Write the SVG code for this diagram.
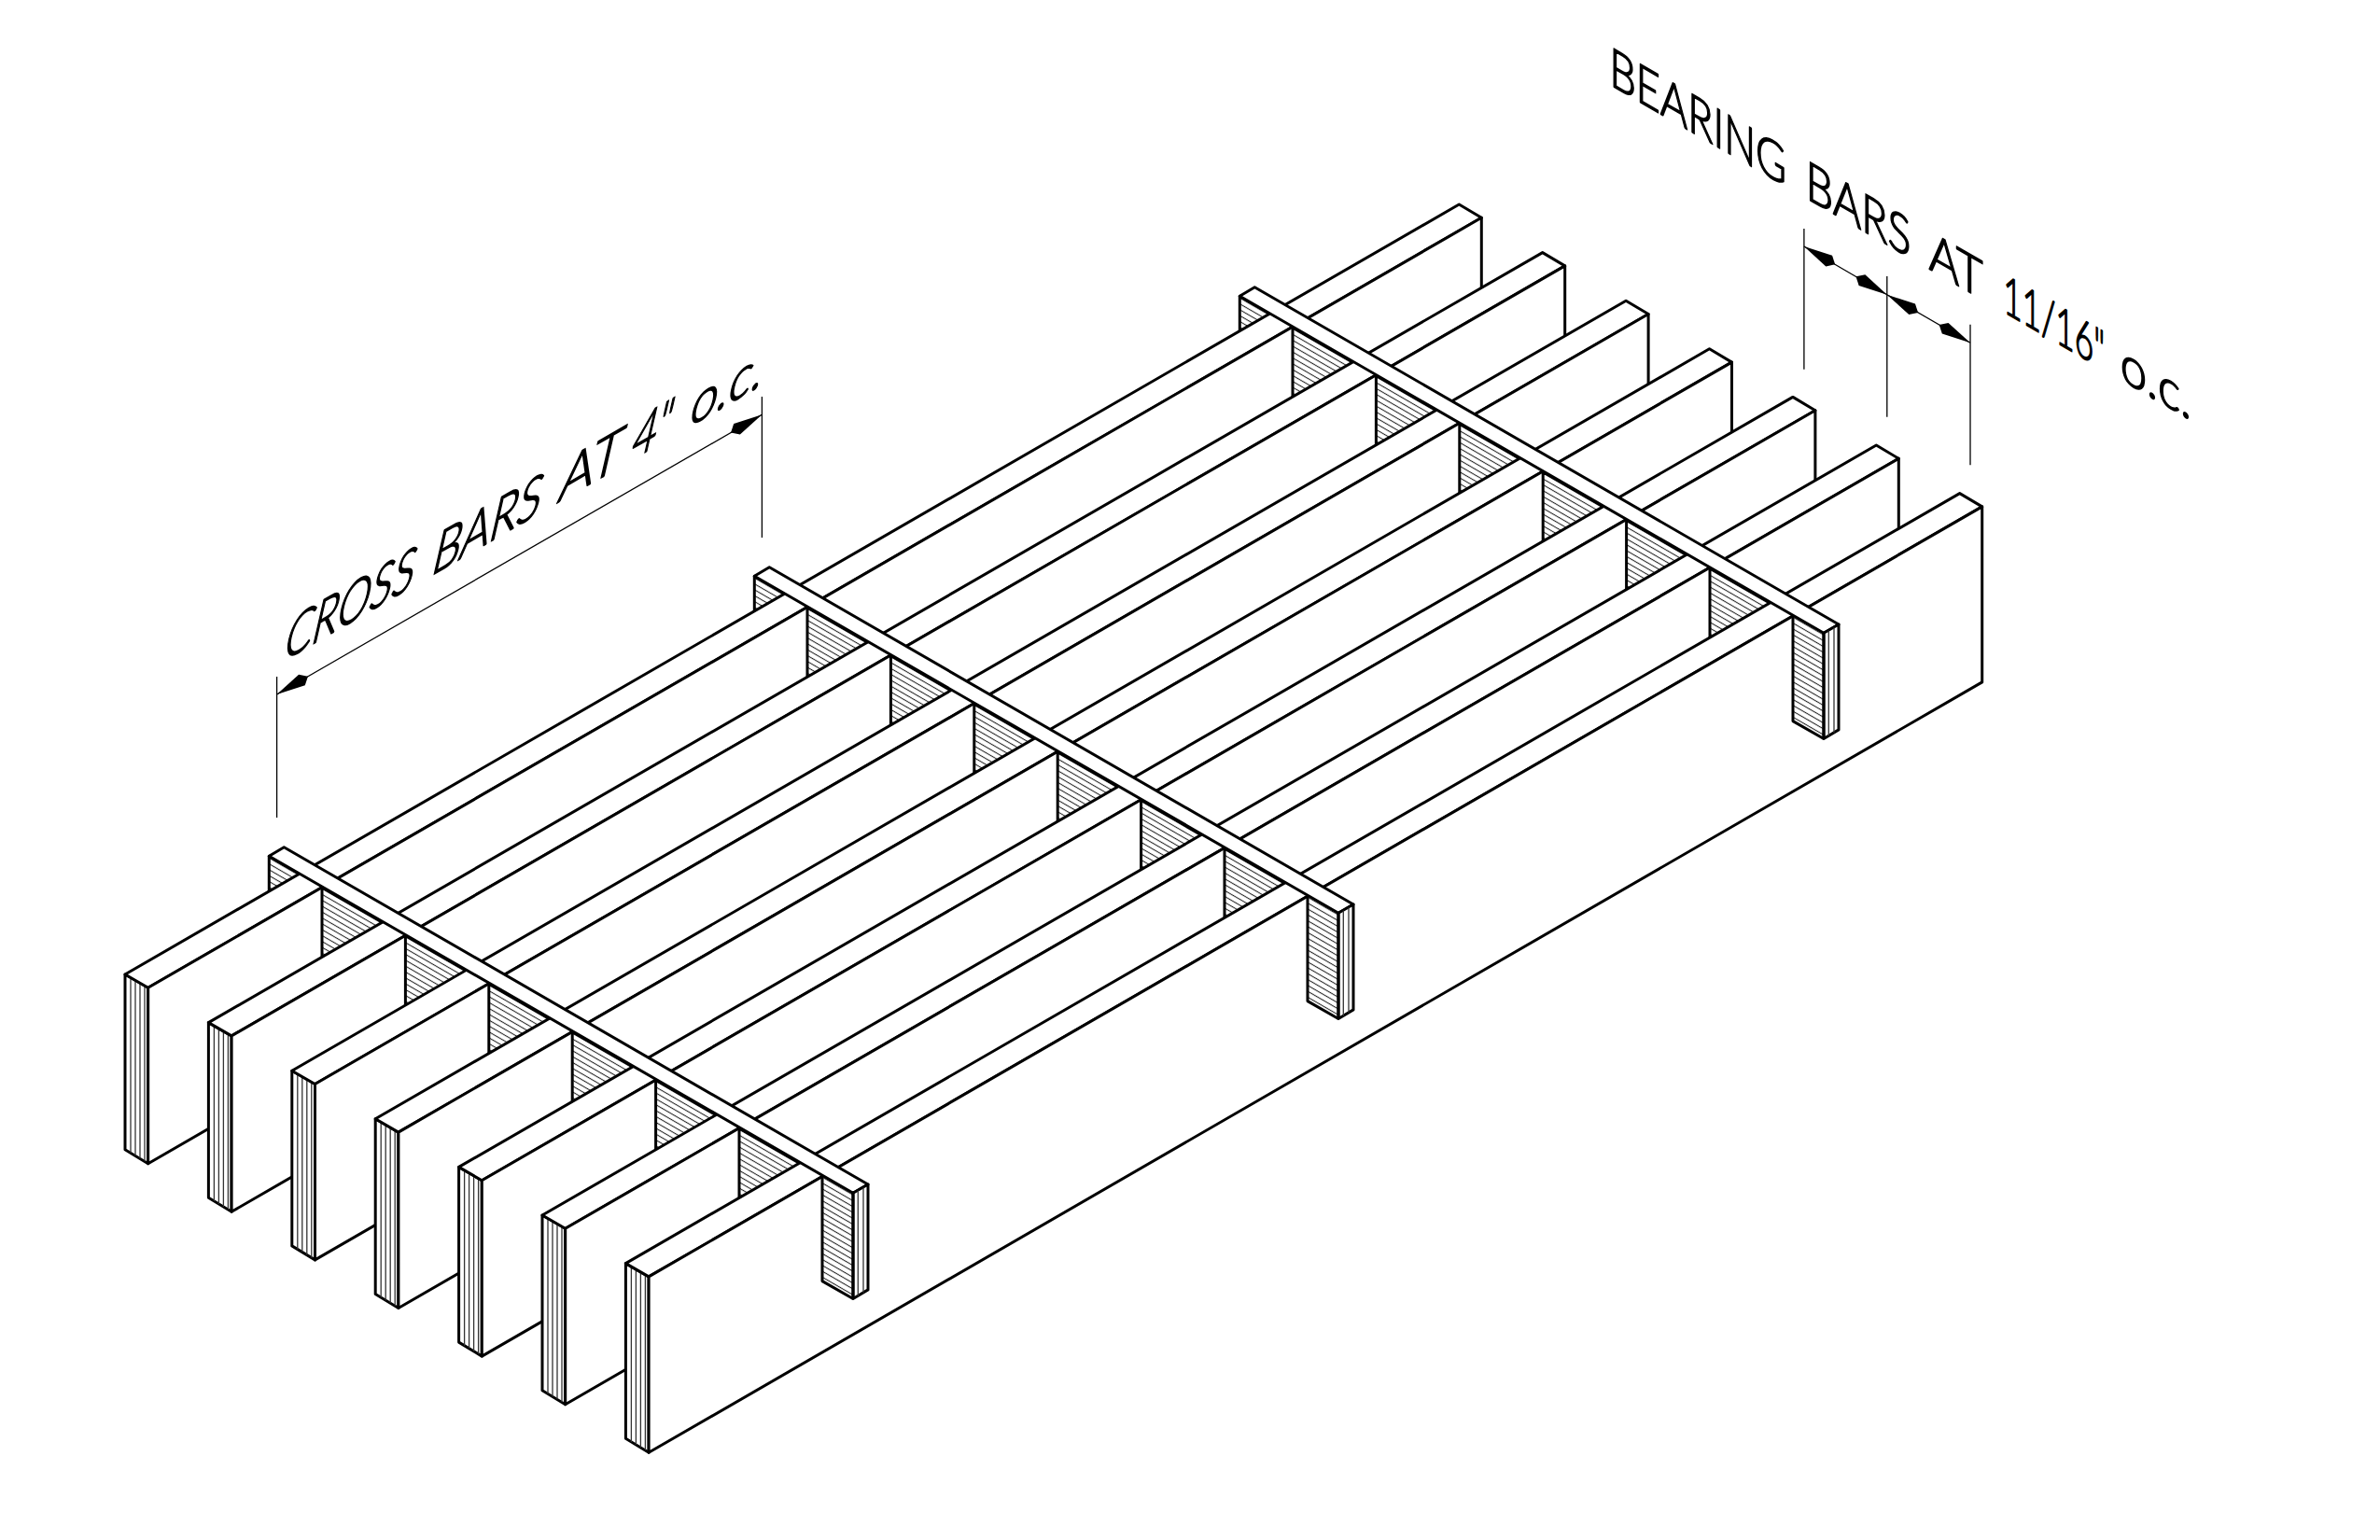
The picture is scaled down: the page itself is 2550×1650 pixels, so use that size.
<svg xmlns="http://www.w3.org/2000/svg" width="2550" height="1650" viewBox="0 0 2550 1650">
<style>
.f{fill:#fff;stroke:#000;stroke-width:3;stroke-linejoin:round}
.h{fill:url(#hatch);stroke:none}
.e{fill:none;stroke:#000;stroke-width:3;stroke-linejoin:round}
.v{stroke:#333;stroke-width:1.3;fill:none}
.d{stroke:#000;stroke-width:1.3;fill:none}
.a{marker-start:url(#arr);marker-end:url(#arr)}
text{font-family:"Lato","Liberation Sans",sans-serif;font-weight:300;font-size:58px;fill:#000;stroke:#000;stroke-width:1.7;stroke-linejoin:round}
</style>
<defs>
<pattern id="hatch" patternUnits="userSpaceOnUse" width="100" height="6.3" patternTransform="matrix(1 .577 0 1 0 0)">
<rect width="100" height="6.3" fill="#fff"/><rect y="2.6" width="100" height="1.2" fill="#222"/>
</pattern>
<marker id="arr" markerUnits="userSpaceOnUse" markerWidth="40" markerHeight="14" refX="38.5" refY="7" orient="auto-start-reverse" overflow="visible">
<path d="M38.5 7L7.5 .3L0 7L7.5 13.7Z" fill="#000"/>
</marker>
<g id="bar">
<path class="f" d="M134 1044L158.7 1058.3L158.7 1246.7L134 1231.7Z"/>
<path class="v" d="M140 1047.5V1235.5M145 1050.4V1238.4M150 1053.3V1241.3M155 1056.2V1244.2"/>
<path class="f" d="M134 1044L158.7 1058.3L1587.3 233.3L1563.3 219Z"/>
<path class="f" d="M158.7 1058.3L1587.3 233.3V421.3L158.7 1246.7Z"/>
</g>
<g id="bay">
<path class="h" d="M345 950.9L434.4 1002.5V1115.5L345 1063.9Z"/>
<path class="e" d="M345 1063.9V950.9L434.4 1002.5"/>
</g>
<g id="bay3">
<use href="#bay"/><use href="#bay" x="520" y="-300"/><use href="#bay" x="1040" y="-600"/>
</g>
<g id="stub">
<path class="h" d="M288.3 917.3L321 936.2V1049.2L288.3 1030.3Z"/>
<path class="e" d="M288.3 1030.3V917.3L321 936.2"/>
</g>
<g id="cross">
<path class="h" d="M881 1259.3L914 1278.3V1391.5L881 1372.6Z"/>
<path class="e" d="M881 1259.3V1372.6L914 1391.5"/>
<path class="f" d="M304.3 907.7L930 1269L914 1278.3L288.3 917.3Z"/>
<path class="f" d="M914 1278.3L930 1269V1381.9L914 1391.5Z"/>
<path class="v" d="M919.3 1275.5V1388.5M925 1272.2V1385.2"/>
<path class="e" d="M914 1278.3V1391.5"/>
</g>
</defs>
<g id="stubs">
<use href="#stub"/><use href="#stub" x="520" y="-300"/><use href="#stub" x="1040" y="-600"/>
</g>
<g id="bearing-bars">
<use href="#bar"/>
<use href="#bay3"/>
<use href="#bar" x="89.4" y="51.6"/>
<use href="#bay3" x="89.4" y="51.6"/>
<use href="#bar" x="178.8" y="103.2"/>
<use href="#bay3" x="178.8" y="103.2"/>
<use href="#bar" x="268.2" y="154.8"/>
<use href="#bay3" x="268.2" y="154.8"/>
<use href="#bar" x="357.6" y="206.4"/>
<use href="#bay3" x="357.6" y="206.4"/>
<use href="#bar" x="447" y="258"/>
<use href="#bay3" x="447" y="258"/>
<use href="#bar" x="536.4" y="309.6"/>
</g>
<g id="cross-bars">
<use href="#cross"/><use href="#cross" x="520" y="-300"/><use href="#cross" x="1040" y="-600"/>
</g>
<g id="dimensions">
<path class="d" d="M296.6 725V876M816.4 425V576"/>
<path class="d a" d="M296.6 744L816.4 444.3"/>
<path class="d" d="M1932.9 245V395.7M2021.8 296V446.7M2111 347.7V498.3"/>
<path class="d a" d="M1932.9 264L2021.8 315.7"/>
<path class="d a" d="M2021.8 315.7L2111 367.3"/>
</g>
<g id="labels">
<text transform="matrix(.866 -.5 -.263 1.148 306 707)"><tspan x="-5" textLength="160" lengthAdjust="spacingAndGlyphs">CROSS</tspan> <tspan x="178" textLength="134" lengthAdjust="spacingAndGlyphs">BARS</tspan> <tspan x="335" textLength="76" lengthAdjust="spacingAndGlyphs">AT</tspan> <tspan x="425" textLength="48" lengthAdjust="spacingAndGlyphs">4"</tspan> <tspan x="497" textLength="90" lengthAdjust="spacingAndGlyphs">o.c.</tspan></text>
<text transform="matrix(.866 .5 0 1 1727 92)"><tspan x="-3" textLength="219" lengthAdjust="spacingAndGlyphs">BEARING</tspan> <tspan x="240" textLength="130" lengthAdjust="spacingAndGlyphs">BARS</tspan> <tspan x="392" textLength="67" lengthAdjust="spacingAndGlyphs">AT</tspan> <tspan x="484" textLength="126" lengthAdjust="spacingAndGlyphs">11/16"</tspan> <tspan x="629" textLength="88" lengthAdjust="spacingAndGlyphs">o.c.</tspan></text>
</g>
</svg>
